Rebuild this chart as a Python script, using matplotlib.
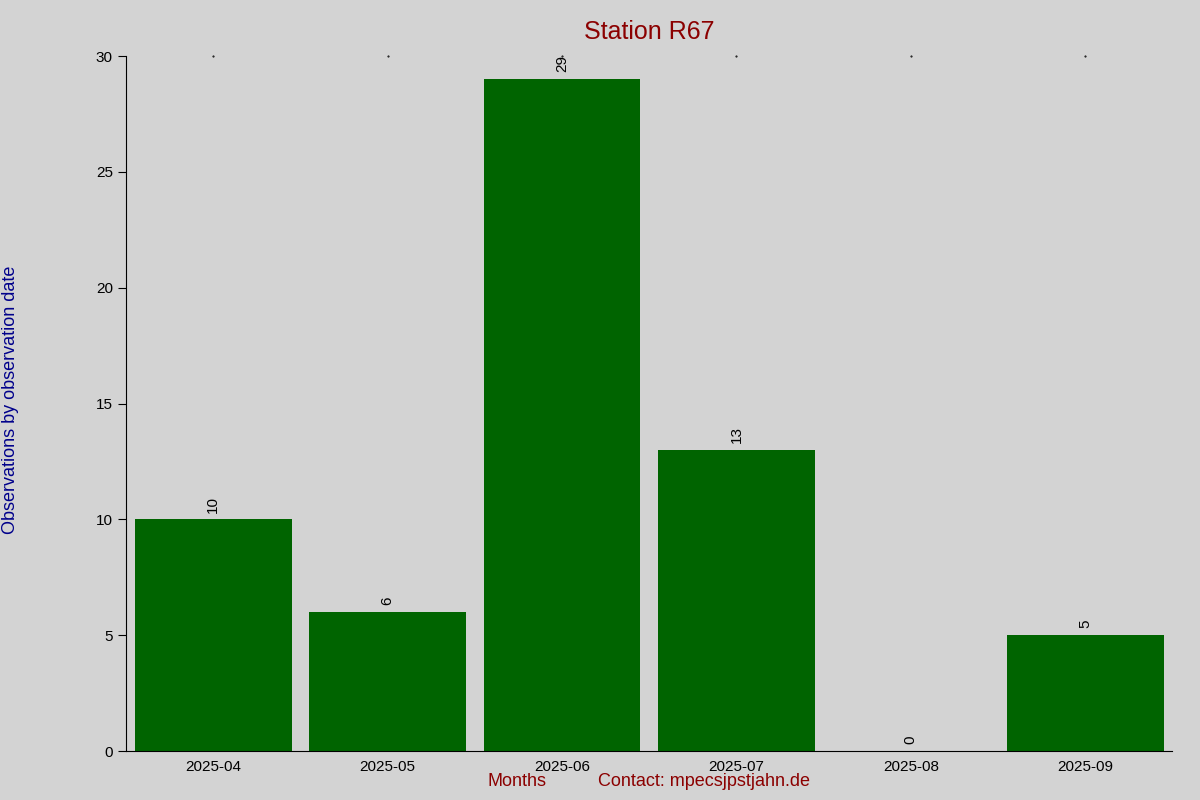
import matplotlib.pyplot as plt

months = ['2025-04', '2025-05', '2025-06', '2025-07', '2025-08', '2025-09']
counts = [10, 6, 29, 13, 0, 5]

plt.rcParams['font.family'] = ['Liberation Sans', 'DejaVu Sans']
fig = plt.figure(figsize=(12, 8), dpi=100, facecolor='#d3d3d3')
ax = fig.add_axes([0.105, 0.061, 0.872, 0.869])
ax.set_facecolor('#d3d3d3')

x = list(range(len(months)))
ax.bar(x, counts, width=0.9, color='#006400')
for xi, c in zip(x, counts):
    ax.text(xi, c + 0.3, str(c), rotation=90, ha='center', va='bottom', fontsize=11)

ax.set_xlim(-0.5, len(months) - 0.5)
ax.set_ylim(0, 30)
ax.set_xticks(x)
ax.set_xticklabels(months, fontsize=11)
ax.tick_params(axis='x', length=0, pad=6)
ax.tick_params(axis='y', labelsize=11, direction='out', length=6)
ax.spines['top'].set_visible(False)
ax.spines['right'].set_visible(False)
for xi in x:
    ax.plot(xi, 30, marker='.', markersize=1, color='black', clip_on=False)

ax.set_title('Station R67', color='#8b0000', fontsize=18, pad=12)
fig.text(0.431, 0.018, 'Months', color='#8b0000', fontsize=13, ha='center')
fig.text(0.587, 0.018, 'Contact: mpecsjpstjahn.de', color='#8b0000', fontsize=13, ha='center')
fig.text(0.009, 0.5, 'Observations by observation date', color='#00008b', fontsize=13,
         rotation=90, va='center', ha='center')

fig.savefig('out.png', facecolor=fig.get_facecolor())
